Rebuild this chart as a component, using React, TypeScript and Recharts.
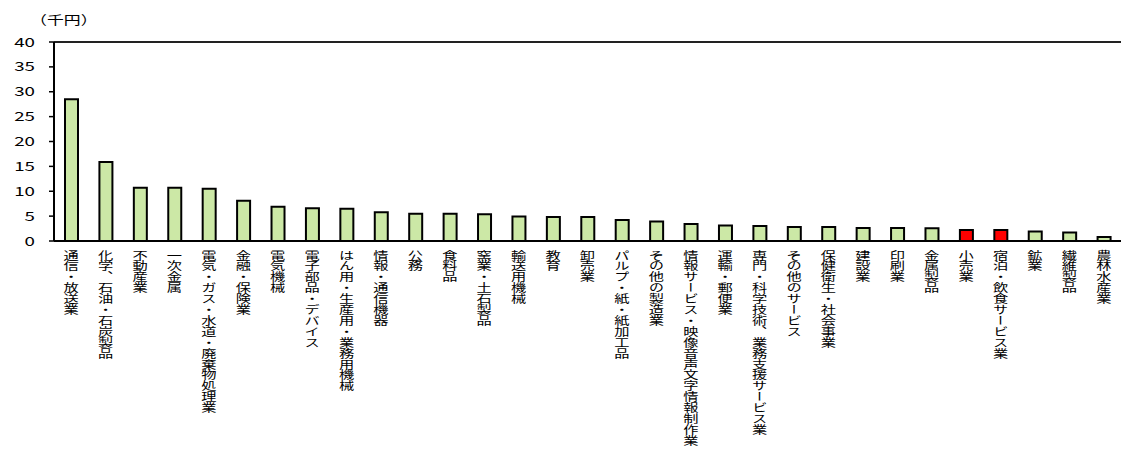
import { BarChart, Bar, XAxis, YAxis, Cell, ReferenceLine } from "recharts";

const categories = [
    "通信・放送業",
    "化学、石油・石炭製品",
    "不動産業",
    "一次金属",
    "電気・ガス・水道・廃棄物処理業",
    "金融・保険業",
    "電気機械",
    "電子部品・デバイス",
    "はん用・生産用・業務用機械",
    "情報・通信機器",
    "公務",
    "食料品",
    "窯業・土石製品",
    "輸送用機械",
    "教育",
    "卸売業",
    "パルプ・紙・紙加工品",
    "その他の製造業",
    "情報サービス・映像音声文字情報制作業",
    "運輸・郵便業",
    "専門・科学技術、業務支援サービス業",
    "その他のサービス",
    "保健衛生・社会事業",
    "建設業",
    "印刷業",
    "金属製品",
    "小売業",
    "宿泊・飲食サービス業",
    "鉱業",
    "繊維製品",
    "農林水産業",
];

const values = [
    28.5, 15.9, 10.7, 10.7, 10.5, 8.1, 6.9, 6.6, 6.5, 5.8,
    5.5, 5.5, 5.4, 4.9, 4.8, 4.8, 4.2, 3.9, 3.4, 3.1,
    3.0, 2.8, 2.8, 2.6, 2.6, 2.55, 2.2, 2.2, 1.9, 1.7, 0.8,
];

const highlighted = ["小売業", "宿泊・飲食サービス業"];

const yTicks = [0, 5, 10, 15, 20, 25, 30, 35, 40];

const unitLabel = "（千円）";

const data = categories.map((name, i) => ({ name, value: values[i] }));

const FONT = '"Noto Sans CJK JP", "Noto Sans", sans-serif';

const CategoryTick = ({ x, y, payload }: any) => (
    <g transform={`translate(${x},${y + 1})`}>
        <text
            transform="scale(1.4,1)"
            textAnchor="start"
            fill="#000"
            fontSize={10.9}
            fontFamily={FONT}
            style={{ writingMode: "vertical-rl" } as any}
        >
            {payload.value}
        </text>
    </g>
);

const ValueTick = ({ y, payload }: any) => (
    <g transform={`translate(35,${y})`}>
        <text
            transform="scale(1.5,1)"
            textAnchor="end"
            dy="0.36em"
            fill="#000"
            fontSize={12.5}
            fontFamily={FONT}
        >
            {payload.value}
        </text>
    </g>
);

export default function App() {
    return (
        <div style={{ position: "absolute", left: 0, top: 0, width: 1123, height: 450, background: "#fff" }}>
            <div
                style={{
                    position: "absolute",
                    left: 30,
                    top: 12,
                    fontFamily: FONT,
                    fontSize: 12.5,
                    lineHeight: "16px",
                    transform: "scaleX(1.35)",
                    transformOrigin: "left top",
                    whiteSpace: "nowrap",
                }}
            >
                {unitLabel}
            </div>
            <BarChart
                width={1123}
                height={450}
                data={data}
                margin={{ top: 42, right: 2, bottom: 0, left: 0 }}
                barSize={13}
            >
                <ReferenceLine y={40} stroke="#222" strokeWidth={2} />
                <XAxis
                    dataKey="name"
                    interval={0}
                    height={209}
                    tickLine={false}
                    axisLine={{ stroke: "#000", strokeWidth: 2 }}
                    tick={<CategoryTick />}
                />
                <YAxis
                    width={54}
                    domain={[0, 40]}
                    ticks={yTicks}
                    interval={0}
                    tickSize={5}
                    tickLine={{ stroke: "#000", strokeWidth: 1.5 }}
                    axisLine={{ stroke: "#000", strokeWidth: 2 }}
                    tick={<ValueTick />}
                />
                <Bar dataKey="value" stroke="#000" strokeWidth={2} isAnimationActive={false}>
                    {data.map((d) => (
                        <Cell key={d.name} fill={highlighted.includes(d.name) ? "#ff0000" : "#cce8a6"} />
                    ))}
                </Bar>
            </BarChart>
        </div>
    );
}
